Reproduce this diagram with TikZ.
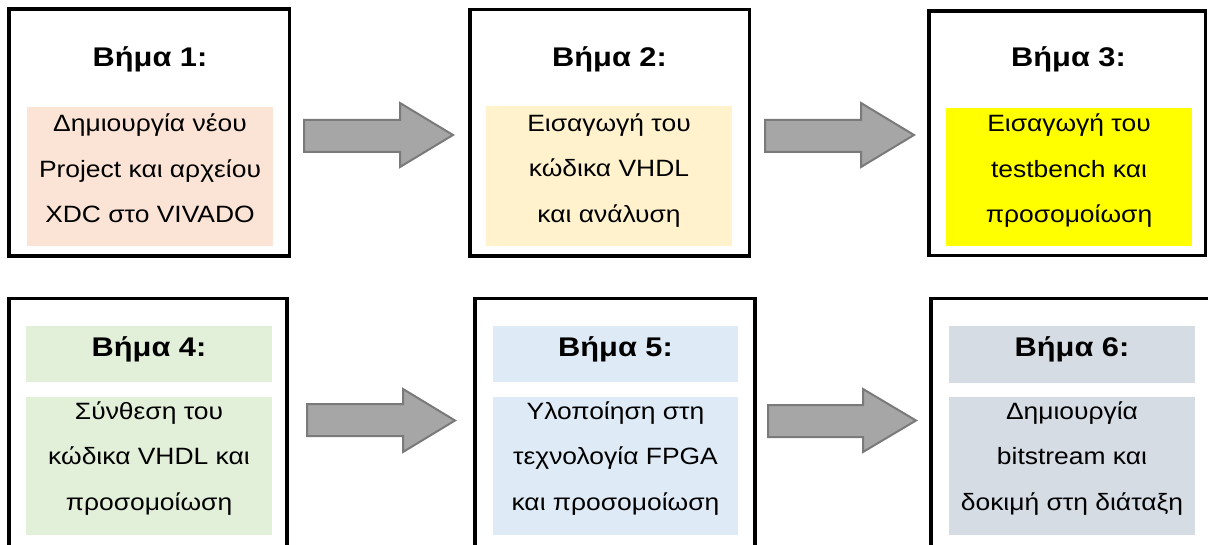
\documentclass[tikz,border=0pt]{standalone}
\usepackage{fontspec}
\usepackage{graphicx}
\setmainfont{Liberation Sans}
\definecolor{cpeach}{HTML}{FBE4D5}
\definecolor{ccream}{HTML}{FFF2CC}
\definecolor{cyellow}{HTML}{FFFF00}
\definecolor{cgreen}{HTML}{E2EFD9}
\definecolor{cblue}{HTML}{DEEAF6}
\definecolor{cgray}{HTML}{D6DCE4}
\definecolor{arrfill}{HTML}{A6A6A6}
\definecolor{arrdraw}{HTML}{7A7A7A}
\newcommand{\bodylines}[1]{\scalebox{1.12}[1]{\begin{tabular}[b]{@{}c@{}}#1\end{tabular}}}
\newcommand{\titlestretch}[1]{\scalebox{1.14}[1]{#1}}
\tikzset{
  outerbox/.style={draw=black, line width=3.5pt, inner sep=0pt},
  fillbox/.style={inner sep=0pt, draw=none},
  titletext/.style={font=\fontsize{27}{32}\selectfont\bfseries, anchor=base, inner sep=0pt},
  bodytext/.style={font=\fontsize{23.6}{45.5}\selectfont, anchor=base, inner sep=0pt},
  blockarrow/.style={fill=arrfill, draw=arrdraw, line width=2pt, line join=miter},
}
\begin{document}
\begin{tikzpicture}[x=1pt,y=-1pt]
\clip (0,0) rectangle (1208,545);
\fill[white] (0,0) rectangle (1208,545);
% top row boxes
\node[outerbox, minimum width=280.5pt, minimum height=247pt] (b1) at (149.25,132.5) {};
\node[outerbox, minimum width=279.5pt, minimum height=246.5pt] (b2) at (609.75,132.75) {};
\node[outerbox, minimum width=276.5pt, minimum height=244.5pt] (b3) at (1067.25,133.25) {};
% bottom row boxes
\node[outerbox, minimum width=278pt, minimum height=270pt] (b4) at (148,433.5) {};
\node[outerbox, minimum width=280pt, minimum height=270pt] (b5) at (615,433.5) {};
\node[outerbox, minimum width=290pt, minimum height=270pt] (b6) at (1076,433.5) {};
% fills
\node[fillbox, fill=cpeach, minimum width=246pt, minimum height=139pt] (f1) at (150,176.5) {};
\node[fillbox, fill=ccream, minimum width=246pt, minimum height=140pt] (f2) at (609,176) {};
\node[fillbox, fill=cyellow, minimum width=246pt, minimum height=138pt] (f3) at (1069,177) {};
\node[fillbox, fill=cgreen, minimum width=246pt, minimum height=56pt] (t4) at (149,354) {};
\node[fillbox, fill=cgreen, minimum width=246pt, minimum height=138pt] (f4) at (149,466) {};
\node[fillbox, fill=cblue, minimum width=245pt, minimum height=56pt] (t5) at (615.5,354) {};
\node[fillbox, fill=cblue, minimum width=245pt, minimum height=138pt] (f5) at (615.5,466) {};
\node[fillbox, fill=cgray, minimum width=246pt, minimum height=57pt] (t6) at (1072,354.5) {};
\node[fillbox, fill=cgray, minimum width=246pt, minimum height=138pt] (f6) at (1072,466) {};
% titles
\node[titletext] (h1) at (150,66.5) {\titlestretch{Βήμα 1:}};
\node[titletext] (h2) at (609.5,66.5) {\titlestretch{Βήμα 2:}};
\node[titletext] (h3) at (1068.5,66.5) {\titlestretch{Βήμα 3:}};
\node[titletext] (h4) at (149,356) {\titlestretch{Βήμα 4:}};
\node[titletext] (h5) at (615.5,356) {\titlestretch{Βήμα 5:}};
\node[titletext] (h6) at (1072,356) {\titlestretch{Βήμα 6:}};
% body texts
\node[bodytext] (p1) at (150,223) {\bodylines{Δημιουργία νέου\\Project και αρχείου\\XDC στο VIVADO}};
\node[bodytext] (p2) at (609,222.5) {\bodylines{Εισαγωγή του\\κώδικα VHDL\\και ανάλυση}};
\node[bodytext] (p3) at (1069,223) {\bodylines{Εισαγωγή του\\testbench και\\προσομοίωση}};
\node[bodytext] (p4) at (149,510) {\bodylines{Σύνθεση του\\κώδικα VHDL και\\προσομοίωση}};
\node[bodytext] (p5) at (615.5,510) {\bodylines{Υλοποίηση στη\\τεχνολογία FPGA\\και προσομοίωση}};
\node[bodytext] (p6) at (1072,510) {\bodylines{Δημιουργία\\bitstream και\\δοκιμή στη διάταξη}};
% block arrows
\draw[blockarrow] (304,120) -- (400,120) -- (400,103) -- (453,135) -- (400,167) -- (400,152) -- (304,152) -- cycle;
\draw[blockarrow] (765,120) -- (861,120) -- (861,103) -- (914,135) -- (861,167) -- (861,152) -- (765,152) -- cycle;
\draw[blockarrow] (307,404) -- (403,404) -- (403,389) -- (455,420.5) -- (403,452) -- (403,436) -- (307,436) -- cycle;
\draw[blockarrow] (768,405) -- (863,405) -- (863,389) -- (916,420.5) -- (863,452) -- (863,437) -- (768,437) -- cycle;
\end{tikzpicture}
\end{document}
